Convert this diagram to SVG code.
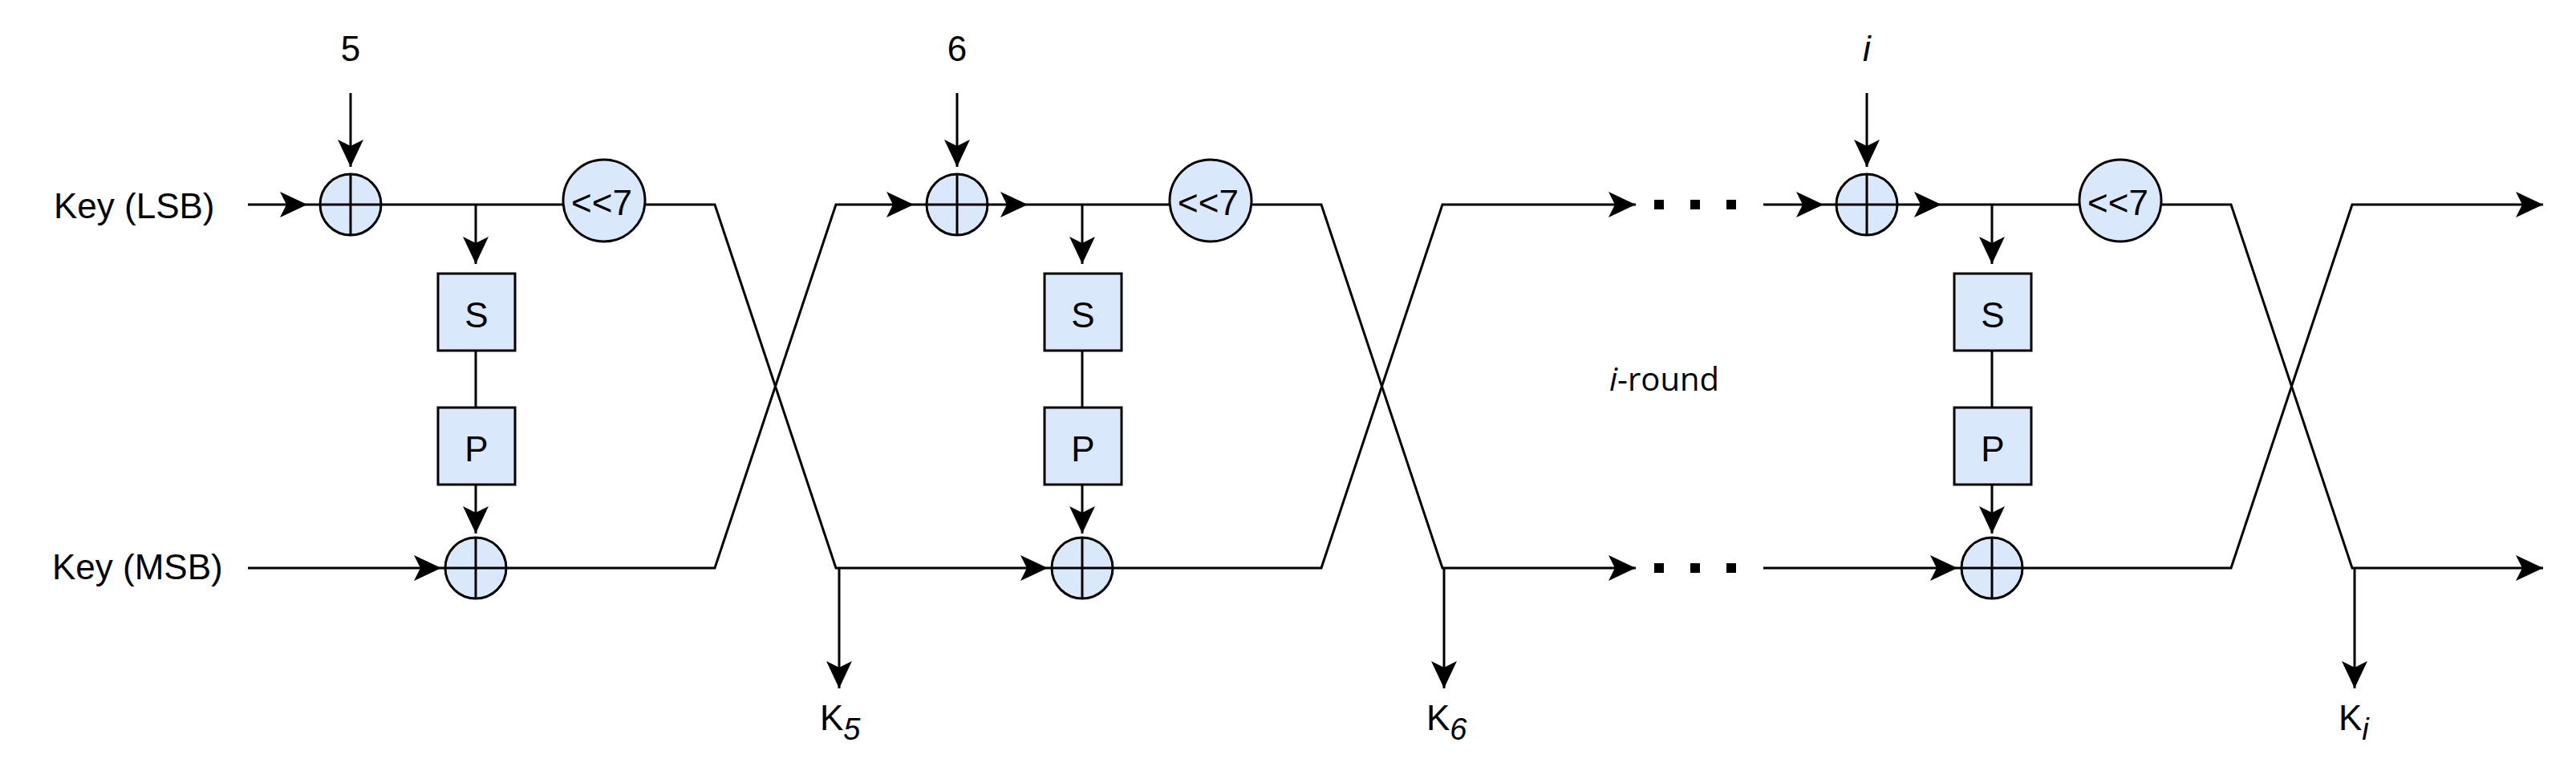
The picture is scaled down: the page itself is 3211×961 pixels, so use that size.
<svg xmlns="http://www.w3.org/2000/svg" width="3211" height="961" viewBox="0 0 3211 961">
<style>
.ln{fill:none;stroke:#000;stroke-width:3;stroke-linejoin:miter}
.sh{fill:#dae8fc;stroke:#000;stroke-width:3}
.x{stroke:#000;stroke-width:3;fill:none}
.t{font-family:"Liberation Sans",Arial,Helvetica,sans-serif;font-size:44px;fill:#000}
.c{text-anchor:middle}
.sub{font-size:38px;font-style:italic}
.it{font-style:italic}
.ir{font-family:"Open Sans","Noto Sans",sans-serif;font-size:40px;fill:#000}
.dot{fill:#000}
</style>
<defs>
<marker id="arr" markerUnits="userSpaceOnUse" markerWidth="50" markerHeight="40" viewBox="-45 -20 50 40" refX="0" refY="0" orient="auto" overflow="visible"><path d="M0,0 L-34,-16 L-26,0 L-34,16 Z" fill="#000"/></marker>
<marker id="arr5" markerUnits="userSpaceOnUse" markerWidth="50" markerHeight="40" viewBox="-45 -20 50 40" refX="0" refY="0" orient="auto" overflow="visible"><path d="M-5,0 L-39,-16 L-31,0 L-39,16 Z" fill="#000"/></marker>
<marker id="arr16" markerUnits="userSpaceOnUse" markerWidth="60" markerHeight="40" viewBox="-55 -20 60 40" refX="0" refY="0" orient="auto" overflow="visible"><path d="M-16,0 L-50,-16 L-42,0 L-50,16 Z" fill="#000"/></marker>
</defs>
<rect width="3211" height="961" fill="#fff"/>

<g id="connectors">
<path class="ln" d="M309,255 H399" marker-end="url(#arr16)"/>
<path class="ln" d="M437,116 V208" marker-end="url(#arr)"/>
<path class="ln" d="M476,255 H702"/>
<path class="ln" d="M593,255 V329" marker-end="url(#arr)"/>
<path class="ln" d="M593,437 V508"/>
<path class="ln" d="M593,604 V665" marker-end="url(#arr)"/>
<path class="ln" d="M309,708 H555" marker-end="url(#arr5)"/>
<path class="ln" d="M804,255 H891 L1042,708 H1311" marker-end="url(#arr5)"/>
<path class="ln" d="M631,708 H891 L1042,255 H1155" marker-end="url(#arr16)"/>
<path class="ln" d="M1046,708 V858" marker-end="url(#arr)"/>

<path class="ln" d="M1193,116 V208" marker-end="url(#arr)"/>
<path class="ln" d="M1231,255 H1281" marker-end="url(#arr)"/>
<path class="ln" d="M1281,255 H1458"/>
<path class="ln" d="M1349,255 V329" marker-end="url(#arr)"/>
<path class="ln" d="M1349,437 V508"/>
<path class="ln" d="M1349,604 V665" marker-end="url(#arr)"/>
<path class="ln" d="M1560,255 H1647 L1798,708 H2039" marker-end="url(#arr)"/>
<path class="ln" d="M1387,708 H1647 L1798,255 H2039" marker-end="url(#arr)"/>
<path class="ln" d="M1800,708 V858" marker-end="url(#arr)"/>

<path class="ln" d="M2198,255 H2289" marker-end="url(#arr16)"/>
<path class="ln" d="M2327,116 V208" marker-end="url(#arr)"/>
<path class="ln" d="M2365,255 H2420" marker-end="url(#arr)"/>
<path class="ln" d="M2420,255 H2592"/>
<path class="ln" d="M2483,255 V329" marker-end="url(#arr)"/>
<path class="ln" d="M2483,437 V508"/>
<path class="ln" d="M2483,604 V665" marker-end="url(#arr)"/>
<path class="ln" d="M2198,708 H2445" marker-end="url(#arr5)"/>
<path class="ln" d="M2694,255 H2781 L2932,708 H3170" marker-end="url(#arr)"/>
<path class="ln" d="M2521,708 H2781 L2932,255 H3170" marker-end="url(#arr)"/>
<path class="ln" d="M2935,708 V858" marker-end="url(#arr)"/>
</g>

<g id="dots">
<rect class="dot" x="2062" y="249" width="12" height="12"/>
<rect class="dot" x="2107" y="249" width="12" height="12"/>
<rect class="dot" x="2152" y="249" width="12" height="12"/>
<rect class="dot" x="2062" y="702" width="12" height="12"/>
<rect class="dot" x="2107" y="702" width="12" height="12"/>
<rect class="dot" x="2152" y="702" width="12" height="12"/>
</g>

<g id="labels">
<text class="t" x="67" y="272">Key (LSB)</text>
<text class="t" x="65" y="722">Key (MSB)</text>
<text class="t c" x="437" y="76">5</text>
<text class="t c" x="1193" y="76">6</text>
<text class="t c it" x="2327" y="76">i</text>
<text class="ir" x="2006" y="487"><tspan font-style="italic">i</tspan>-round</text>
<text class="t" x="1022" y="910">K<tspan class="sub" dy="12">5</tspan></text>
<text class="t" x="1778" y="910">K<tspan class="sub" dy="12">6</tspan></text>
<text class="t" x="2915" y="910">K<tspan class="sub" dy="12">i</tspan></text>
</g>

<g id="xor_top_1"><circle class="sh" cx="437" cy="255" r="38"/><path class="x" d="M399,255 H475 M437,217 V293"/></g>
<g id="sbox_1"><rect class="sh" x="546" y="341" width="96" height="96"/><text class="t c" x="594" y="408">S</text></g>
<g id="pbox_1"><rect class="sh" x="546" y="508" width="96" height="96"/><text class="t c" x="594" y="575">P</text></g>
<g id="xor_bot_1"><circle class="sh" cx="593" cy="708" r="38"/><path class="x" d="M555,708 H631 M593,670 V746"/></g>
<g id="rot_1"><circle class="sh" cx="753" cy="250" r="51"/><text class="t c" x="750" y="268">&lt;&lt;7</text></g>

<g id="xor_top_2"><circle class="sh" cx="1193" cy="255" r="38"/><path class="x" d="M1155,255 H1231 M1193,217 V293"/></g>
<g id="sbox_2"><rect class="sh" x="1302" y="341" width="96" height="96"/><text class="t c" x="1350" y="408">S</text></g>
<g id="pbox_2"><rect class="sh" x="1302" y="508" width="96" height="96"/><text class="t c" x="1350" y="575">P</text></g>
<g id="xor_bot_2"><circle class="sh" cx="1349" cy="708" r="38"/><path class="x" d="M1311,708 H1387 M1349,670 V746"/></g>
<g id="rot_2"><circle class="sh" cx="1509" cy="250" r="51"/><text class="t c" x="1506" y="268">&lt;&lt;7</text></g>

<g id="xor_top_i"><circle class="sh" cx="2327" cy="255" r="38"/><path class="x" d="M2289,255 H2365 M2327,217 V293"/></g>
<g id="sbox_i"><rect class="sh" x="2436" y="341" width="96" height="96"/><text class="t c" x="2484" y="408">S</text></g>
<g id="pbox_i"><rect class="sh" x="2436" y="508" width="96" height="96"/><text class="t c" x="2484" y="575">P</text></g>
<g id="xor_bot_i"><circle class="sh" cx="2483" cy="708" r="38"/><path class="x" d="M2445,708 H2521 M2483,670 V746"/></g>
<g id="rot_i"><circle class="sh" cx="2643" cy="250" r="51"/><text class="t c" x="2640" y="268">&lt;&lt;7</text></g>
</svg>
